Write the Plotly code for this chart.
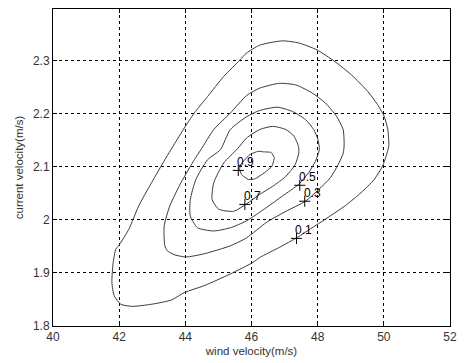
import plotly.graph_objects as go

# Contour levels and traced contour lines (wind velocity, current velocity)
levels = [0.1, 0.3, 0.5, 0.7, 0.9]

c01_x = [41.85, 41.78, 41.82, 41.90, 41.97, 42.29, 42.59, 42.98, 43.38, 43.75, 43.97, 44.27, 44.67, 45.16, 45.65, 45.85, 46.25, 46.94, 47.43, 47.98, 48.52, 49.02, 49.51, 49.81, 50.01, 50.12, 50.15, 50.10, 49.96, 49.71, 49.31, 48.82, 48.23, 47.83, 47.39, 46.84, 46.25, 46.05, 45.36, 44.57, 43.97, 43.58, 42.98, 42.39, 42.05, 41.85]
c01_y = [1.857, 1.882, 1.920, 1.945, 1.950, 1.982, 2.026, 2.070, 2.113, 2.151, 2.173, 2.201, 2.232, 2.270, 2.301, 2.314, 2.329, 2.337, 2.333, 2.320, 2.298, 2.273, 2.242, 2.217, 2.195, 2.170, 2.140, 2.126, 2.101, 2.076, 2.051, 2.026, 2.001, 1.985, 1.967, 1.948, 1.929, 1.920, 1.898, 1.876, 1.863, 1.849, 1.841, 1.837, 1.841, 1.857]

c03_x = [43.38, 43.36, 43.53, 43.87, 44.27, 44.47, 44.86, 45.36, 45.85, 46.25, 46.84, 47.34, 47.83, 48.23, 48.57, 48.77, 48.80, 48.77, 48.62, 48.38, 48.03, 47.63, 47.04, 46.45, 45.85, 45.36, 44.57, 44.02, 43.68, 43.45, 43.38]
c03_y = [1.951, 1.988, 2.026, 2.070, 2.113, 2.132, 2.170, 2.201, 2.234, 2.248, 2.257, 2.254, 2.239, 2.220, 2.195, 2.170, 2.140, 2.125, 2.104, 2.079, 2.057, 2.035, 2.016, 1.995, 1.966, 1.951, 1.936, 1.930, 1.934, 1.942, 1.951]

c05_x = [44.15, 44.15, 44.32, 44.67, 45.06, 45.36, 45.85, 46.25, 46.79, 47.24, 47.63, 47.88, 48.01, 48.05, 47.93, 47.73, 47.43, 46.94, 46.45, 45.85, 45.36, 44.86, 44.37, 44.15]
c05_y = [2.007, 2.038, 2.076, 2.113, 2.132, 2.170, 2.194, 2.206, 2.212, 2.204, 2.189, 2.170, 2.151, 2.132, 2.110, 2.089, 2.067, 2.045, 2.023, 1.998, 1.985, 1.979, 1.985, 2.007]

c07_x = [44.81, 44.86, 45.16, 45.58, 45.85, 46.25, 46.64, 47.04, 47.29, 47.42, 47.43, 47.32, 47.04, 46.64, 46.25, 45.85, 45.46, 45.01, 44.81]
c07_y = [2.038, 2.070, 2.107, 2.134, 2.154, 2.170, 2.176, 2.170, 2.157, 2.138, 2.126, 2.104, 2.082, 2.063, 2.048, 2.030, 2.016, 2.020, 2.038]

c09_x = [46.20, 46.35, 46.59, 46.69, 46.62, 46.40, 46.10, 45.90, 45.70, 45.64, 45.66, 45.75, 45.95, 46.20]
c09_y = [2.129, 2.128, 2.127, 2.117, 2.101, 2.089, 2.077, 2.076, 2.085, 2.095, 2.103, 2.110, 2.123, 2.129]

# Contour label positions
label_x = [47.36, 47.61, 47.46, 45.80, 45.60]
label_y = [1.965, 2.035, 2.065, 2.029, 2.093]
label_text = ["0.1", "0.3", "0.5", "0.7", "0.9"]

x_ticks = [40, 42, 44, 46, 48, 50, 52]
y_ticks = [1.8, 1.9, 2.0, 2.1, 2.2, 2.3]
y_tick_text = ["1.8", "1.9", "2", "2.1", "2.2", "2.3"]

contours = [(c01_x, c01_y), (c03_x, c03_y), (c05_x, c05_y), (c07_x, c07_y), (c09_x, c09_y)]

FONT = "Liberation Sans, Arial, sans-serif"

fig = go.Figure()
for i, (cx, cy) in enumerate(contours):
    fig.add_trace(go.Scatter(
        x=cx, y=cy, mode="lines",
        line=dict(color="#3a3a3a", width=1, shape="spline", smoothing=0.6 if i < 4 else 0.3),
        showlegend=False, hoverinfo="skip"))

fig.add_trace(go.Scatter(
    x=label_x, y=label_y, mode="markers",
    marker=dict(symbol="cross-thin", size=8, line=dict(color="black", width=1)),
    showlegend=False, hoverinfo="skip"))

for lx, ly, lt in zip(label_x, label_y, label_text):
    fig.add_annotation(x=lx, y=ly, text=lt, showarrow=False,
                       xanchor="left", yanchor="bottom", xshift=-3, yshift=-1,
                       font=dict(family=FONT, size=12, color="black"))

axis_common = dict(
    showline=True, linecolor="black", linewidth=1, mirror="ticks",
    ticks="inside", ticklen=4, tickcolor="black",
    showgrid=True, gridcolor="black", gridwidth=1, griddash="3px,3px",
    zeroline=False,
    tickfont=dict(family=FONT, size=12, color="#333"),
    title_font=dict(family=FONT, size=11.5, color="#333"),
)

fig.update_xaxes(range=[40, 52], tickvals=x_ticks, ticktext=[str(v) for v in x_ticks],
                 title_text="wind velocity(m/s)", title_standoff=3, **axis_common)
fig.update_yaxes(range=[1.8, 2.397], tickvals=y_ticks, ticktext=y_tick_text,
                 title_text="current velocity(m/s)", title_standoff=6, **axis_common)

fig.update_layout(
    width=465, height=363,
    margin=dict(l=53, r=8, t=9, b=36),
    paper_bgcolor="white", plot_bgcolor="white",
)

fig.write_html("out.html")
